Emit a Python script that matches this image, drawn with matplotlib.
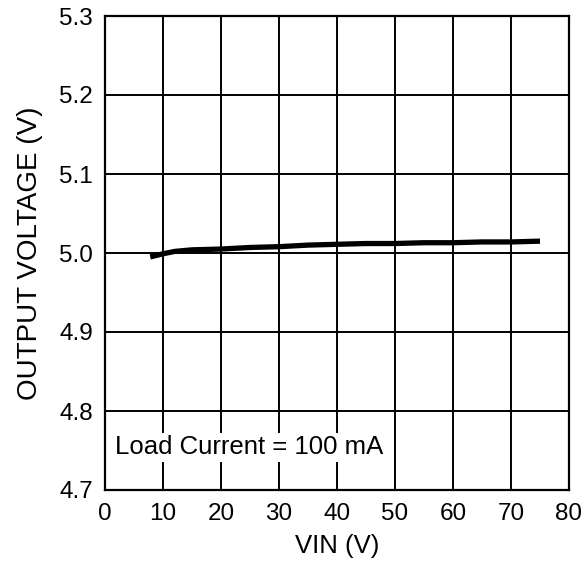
"""Output voltage vs. input voltage at a fixed load current."""

import matplotlib

matplotlib.use("Agg")

import matplotlib.pyplot as plt

# Regulator output over the input range (Load Current = 100 mA)
vin = [7.8, 10, 12, 15, 20, 25, 30, 35, 40, 45, 50, 55, 60, 65, 70, 75]
vout = [4.995, 4.999, 5.002, 5.004, 5.005, 5.007, 5.008, 5.010, 5.011,
        5.012, 5.012, 5.013, 5.013, 5.014, 5.014, 5.015]

x_ticks = [0, 10, 20, 30, 40, 50, 60, 70, 80]
y_ticks = [4.7, 4.8, 4.9, 5.0, 5.1, 5.2, 5.3]

plt.rcParams["font.family"] = ["Liberation Sans", "DejaVu Sans"]

fig = plt.figure(figsize=(5.86, 5.74), dpi=100)
ax = fig.add_axes([105 / 586, 84 / 574, 464 / 586, 474 / 574])

ax.plot(vin, vout, color="black", linewidth=3.8, solid_capstyle="butt", zorder=3)

ax.set_xlim(0, 80)
ax.set_ylim(4.7, 5.3)
ax.set_xticks(x_ticks)
ax.set_yticks(y_ticks)
ax.set_xticklabels([str(v) for v in x_ticks])
ax.set_yticklabels([f"{v:.1f}" for v in y_ticks])
ax.tick_params(axis="both", length=0, labelsize=17.5, colors="black")
ax.tick_params(axis="x", pad=9)
ax.tick_params(axis="y", pad=8.5)

ax.grid(True, color="black", linewidth=1.4)
ax.set_axisbelow(True)
for spine in ax.spines.values():
    spine.set_linewidth(1.6)
    spine.set_color("black")

ax.set_xlabel("VIN (V)", fontsize=18.5, labelpad=7)
ax.set_ylabel("OUTPUT VOLTAGE (V)", fontsize=20, labelpad=12)

ax.text(1.7, 4.754, "Load Current = 100 mA", fontsize=18.5, va="center", ha="left",
        bbox=dict(facecolor="white", edgecolor="none", pad=2), zorder=4)

fig.savefig("out.png", dpi=100)
plt.close(fig)
